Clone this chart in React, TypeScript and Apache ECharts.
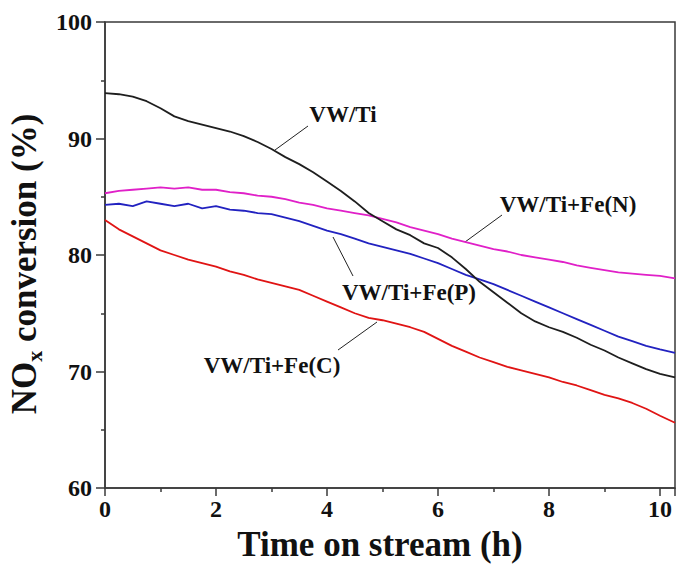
import React, { useEffect, useRef } from "react";
import * as echarts from "echarts";

const times = [0, 0.25, 0.5, 0.75, 1, 1.25, 1.5, 1.75, 2, 2.25, 2.5, 2.75, 3, 3.25, 3.5, 3.75, 4, 4.25, 4.5, 4.75, 5, 5.25, 5.5, 5.75, 6, 6.25, 6.5, 6.75, 7, 7.25, 7.5, 7.75, 8, 8.25, 8.5, 8.75, 9, 9.25, 9.5, 9.75, 10, 10.27];

const vwTi = [93.9, 93.8, 93.6, 93.2, 92.6, 91.9, 91.5, 91.2, 90.9, 90.6, 90.2, 89.7, 89.1, 88.4, 87.8, 87.1, 86.3, 85.5, 84.6, 83.6, 82.9, 82.2, 81.7, 81.0, 80.6, 79.8, 78.8, 77.7, 76.8, 75.9, 75.0, 74.3, 73.8, 73.4, 72.9, 72.3, 71.8, 71.2, 70.7, 70.2, 69.8, 69.5];
const vwTiFeN = [85.3, 85.5, 85.6, 85.7, 85.8, 85.7, 85.8, 85.6, 85.6, 85.4, 85.3, 85.1, 85.0, 84.8, 84.5, 84.3, 84.0, 83.8, 83.6, 83.4, 83.1, 82.8, 82.4, 82.1, 81.8, 81.4, 81.1, 80.8, 80.5, 80.3, 80.0, 79.8, 79.6, 79.4, 79.1, 78.9, 78.7, 78.5, 78.4, 78.3, 78.2, 78.0];
const vwTiFeP = [84.3, 84.4, 84.2, 84.6, 84.4, 84.2, 84.4, 84.0, 84.2, 83.9, 83.8, 83.6, 83.5, 83.2, 82.9, 82.5, 82.1, 81.8, 81.4, 81.0, 80.7, 80.4, 80.1, 79.7, 79.3, 78.8, 78.3, 77.9, 77.5, 77.0, 76.5, 76.0, 75.5, 75.0, 74.5, 74.0, 73.5, 73.0, 72.6, 72.2, 71.9, 71.6];
const vwTiFeC = [83.0, 82.2, 81.6, 81.0, 80.4, 80.0, 79.6, 79.3, 79.0, 78.6, 78.3, 77.9, 77.6, 77.3, 77.0, 76.5, 76.0, 75.5, 75.0, 74.6, 74.4, 74.1, 73.8, 73.4, 72.8, 72.2, 71.7, 71.2, 70.8, 70.4, 70.1, 69.8, 69.5, 69.1, 68.8, 68.4, 68.0, 67.7, 67.3, 66.8, 66.2, 65.6];

const seriesNames = ["VW/Ti", "VW/Ti+Fe(N)", "VW/Ti+Fe(P)", "VW/Ti+Fe(C)"];
const seriesColors = ["#1e1e1e", "#e020c8", "#2222c0", "#e01414"];
const seriesValues = [vwTi, vwTiFeN, vwTiFeP, vwTiFeC];

const FONT = "'Liberation Serif', 'DejaVu Serif', 'Times New Roman', serif";

export default function App() {
  const ref = useRef<HTMLDivElement>(null);
  useEffect(() => {
    if (!ref.current) return;
    const chart = echarts.init(ref.current, undefined, { renderer: "svg" });
    const axisColor = "#3a3a3a";
    const labelStyle = { fontFamily: FONT, fontWeight: "bold" as const, fontSize: 24, color: "#111" };
    const annot = (text: string, x: number, y: number) => ({
      type: "text",
      x,
      y,
      style: { text, fontFamily: FONT, fontWeight: "bold", fontSize: 23, fill: "#111", textAlign: "center", textVerticalAlign: "middle" },
    });
    const leader = (x1: number, y1: number, x2: number, y2: number) => ({
      type: "line",
      shape: { x1, y1, x2, y2 },
      style: { stroke: "#222", lineWidth: 1 },
    });
    chart.setOption({
      animation: false,
      backgroundColor: "#fff",
      grid: {
        left: 105,
        top: 22,
        width: 570,
        height: 466,
        outerBoundsMode: "none",
        containLabel: false,
        show: true,
        borderColor: axisColor,
        borderWidth: 1.5,
        backgroundColor: "transparent",
      },
      xAxis: {
        type: "value",
        min: 0,
        max: 10.27,
        interval: 2,
        name: "Time on stream (h)",
        nameLocation: "middle",
        nameGap: 39,
        nameTextStyle: { fontFamily: FONT, fontWeight: "bold", fontSize: 35, lineHeight: 34, color: "#111", padding: [0, 20, 0, 0] },
        axisLine: { show: true, lineStyle: { color: axisColor, width: 1.5 } },
        axisTick: { show: true, length: 8, lineStyle: { color: axisColor, width: 1.5 } },
        minorTick: { show: true, splitNumber: 2, length: 4, lineStyle: { color: axisColor, width: 1.5 } },
        axisLabel: { ...labelStyle, margin: 9, showMaxLabel: false },
        splitLine: { show: false },
      },
      yAxis: {
        type: "value",
        min: 60,
        max: 100,
        interval: 10,
        name: "{a|NO}{b|x}{a| conversion (%)}",
        nameLocation: "middle",
        nameGap: 60,
        nameTextStyle: {
          fontFamily: FONT,
          fontWeight: "bold",
          color: "#111",
          padding: [0, 18, 0, 0],
          rich: {
            a: { fontFamily: FONT, fontWeight: "bold", fontSize: 35, color: "#111", lineHeight: 42 },
            b: { fontFamily: FONT, fontWeight: "bold", fontSize: 22, color: "#111", lineHeight: 21, verticalAlign: "bottom" },
          },
        },
        axisLine: { show: true, lineStyle: { color: axisColor, width: 1.5 } },
        axisTick: { show: true, length: 9, lineStyle: { color: axisColor, width: 1.5 } },
        minorTick: { show: true, splitNumber: 2, length: 4, lineStyle: { color: axisColor, width: 1.5 } },
        axisLabel: { ...labelStyle, margin: 13 },
        splitLine: { show: false },
      },
      series: seriesNames.map((name, i) => ({
        name,
        type: "line",
        data: times.map((t, j) => [t, seriesValues[i][j]]),
        showSymbol: false,
        symbol: "none",
        smooth: false,
        lineStyle: { color: seriesColors[i], width: 1.8 },
        itemStyle: { color: seriesColors[i] },
        z: 4 - i,
      })),
      graphic: [
        annot("VW/Ti", 343, 114),
        leader(308, 126, 275, 150),
        annot("VW/Ti+Fe(N)", 568, 204),
        leader(502, 215, 465, 242),
        annot("VW/Ti+Fe(P)", 409, 292),
        leader(333, 237, 353, 276),
        annot("VW/Ti+Fe(C)", 272, 365),
        leader(338, 350, 377, 322),
      ],
    });
    return () => chart.dispose();
  }, []);
  return <div ref={ref} style={{ position: "absolute", left: 0, top: 0, width: 678, height: 566 }} />;
}
